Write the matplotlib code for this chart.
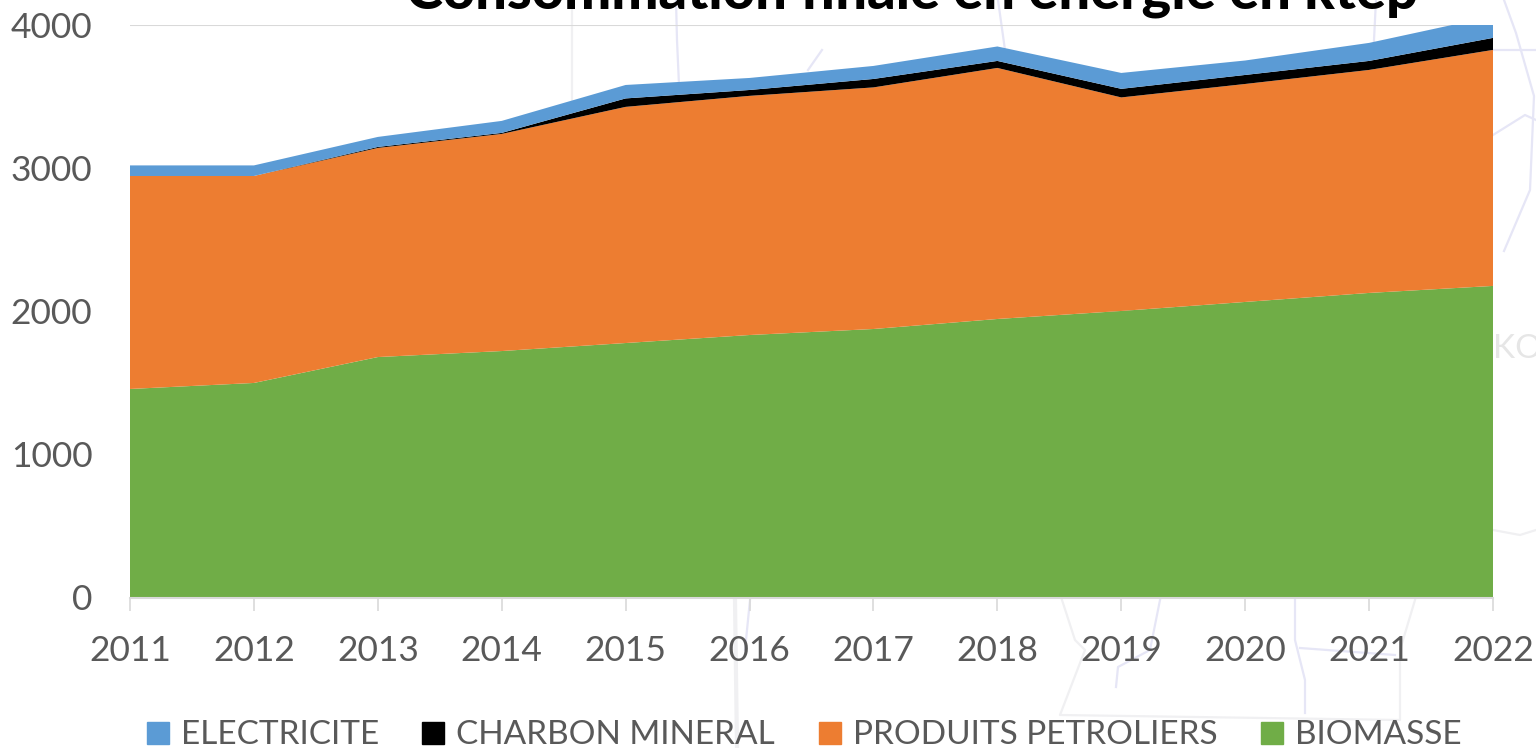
import matplotlib
matplotlib.use("Agg")
import matplotlib.pyplot as plt
from matplotlib.lines import Line2D
from matplotlib.patches import Patch

years = [2011, 2012, 2013, 2014, 2015, 2016, 2017, 2018, 2019, 2020, 2021, 2022]
biomasse = [1457, 1499, 1680, 1722, 1778, 1834, 1876, 1946, 2002, 2065, 2128, 2177]
produits = [1488, 1446, 1461, 1517, 1650, 1671, 1688, 1754, 1492, 1523, 1558, 1649]
charbon = [0, 0, 7, 7, 59, 41, 59, 49, 60, 63, 63, 84]
electricite = [74, 74, 70, 84, 94, 84, 91, 101, 111, 101, 126, 152]
labels = ["BIOMASSE", "PRODUITS PETROLIERS", "CHARBON MINERAL", "ELECTRICITE"]
colors = ["#70AD47", "#ED7D31", "#000000", "#5B9BD5"]
yticks = [0, 1000, 2000, 3000, 4000]
title = "Consommation finale en énergie en ktep"

plt.rcParams["font.family"] = ["Lato", "DejaVu Sans"]
W, H = 1536, 748
fig = plt.figure(figsize=(W / 100, H / 100), dpi=100)
L, R, T, B = 130, 1493, 25, 597.5
ax = fig.add_axes([L / W, 1 - B / H, (R - L) / W, (B - T) / H])
ax.patch.set_visible(False)
ax.stackplot(years, biomasse, produits, charbon, electricite, colors=colors, linewidth=0)
ax.set_xlim(2011, 2022)
ax.set_ylim(0, 4000)
ax.set_xticks(years)
ax.set_yticks(yticks)
for s in ["left", "right", "top"]:
    ax.spines[s].set_visible(False)
ax.spines["bottom"].set_color("#D9D9D9")
ax.spines["bottom"].set_linewidth(1.5)
ax.yaxis.grid(True, color="#D9D9D9", linewidth=1.5)
ax.set_axisbelow(True)
ax.tick_params(axis="y", length=0, pad=27, labelsize=25.5, labelcolor="#595959")
ax.tick_params(axis="x", length=9, width=1.2, color="#D9D9D9", pad=18, labelsize=25.5, labelcolor="#595959")

fig.text(912 / W, 1 - 8 / H, title, ha="center", va="baseline", fontsize=40.3,
         fontweight="black", color="#000000")

order = [3, 2, 1, 0]
handles = [Patch(color=colors[i], label=labels[i]) for i in order]
fig.legend(handles=handles, loc="lower center", bbox_to_anchor=(804 / W, -0.03), ncol=4,
           frameon=False, fontsize=24, labelcolor="#595959", handlelength=0.66, handleheight=0.66,
           handletextpad=0.36, columnspacing=1.3, borderpad=0.1)


def backdrop(points, color, lw=1.6):
    xs = [p[0] / W for p in points]
    ys = [1 - p[1] / H for p in points]
    fig.add_artist(Line2D(xs, ys, color=color, linewidth=lw, zorder=-1, transform=fig.transFigure))


# faint map visible behind the chart
river = "#E6E6F6"
border = "#F0F0F2"
backdrop([(676, 0), (677, 40), (679, 85), (657, 112)], river)
backdrop([(998, 0), (1005, 50)], river)
backdrop([(822, 50), (808, 70)], river)
backdrop([(1376, 0), (1373, 60)], river)
backdrop([(1504, 0), (1516, 33), (1534, 96), (1532, 143), (1530, 190), (1504, 251)], river)
backdrop([(1493, 135), (1525, 115), (1536, 120)], river)
backdrop([(1493, 50), (1536, 50)], river)
backdrop([(1160, 600), (1150, 650), (1118, 667), (1116, 687)], river)
backdrop([(1295, 600), (1295, 640), (1305, 680), (1305, 713)], river)
backdrop([(1300, 648), (1395, 655)], river)
backdrop([(750, 600), (745, 650)], river)
backdrop([(572, 0), (572, 130)], border)
backdrop([(1493, 530), (1520, 535), (1536, 530)], border)
backdrop([(735, 600), (737, 748)], border, 3)
backdrop([(1062, 600), (1075, 640), (1085, 650), (1060, 715), (1400, 720), (1400, 650), (1415, 600)], border)
fig.text(1493 / W, 1 - 358 / H, "KO", fontsize=24, color="#E6E6E6", ha="left", va="baseline", zorder=-1)

fig.savefig("out.png", dpi=100)
